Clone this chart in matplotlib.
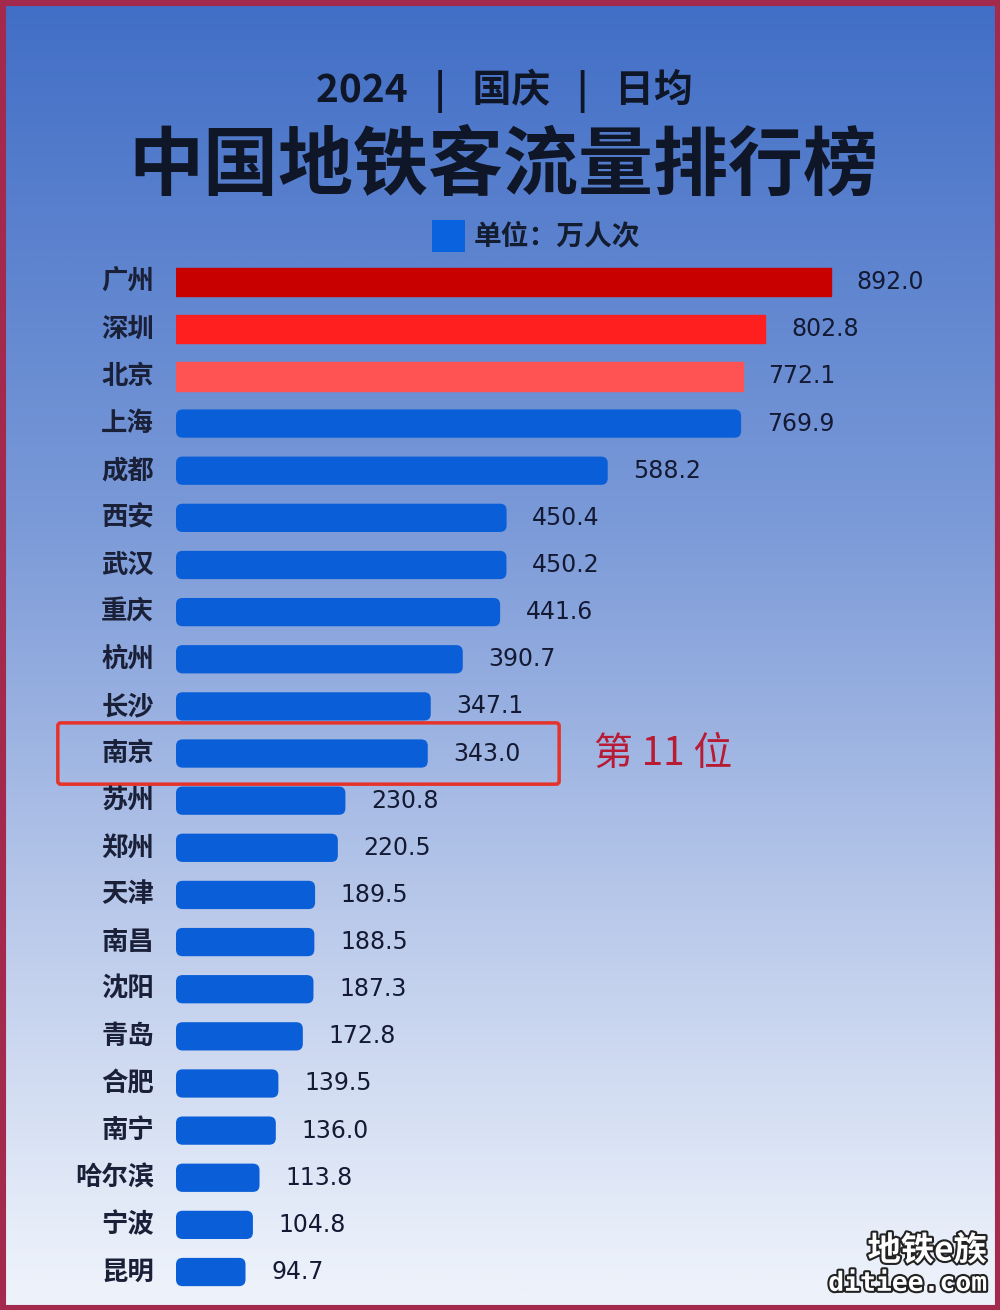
import numpy as np
import matplotlib
matplotlib.use('Agg')
import matplotlib.pyplot as plt
from matplotlib.colors import LinearSegmentedColormap
from matplotlib.patches import FancyBboxPatch, Rectangle
import matplotlib.patheffects as pe

plt.rcParams['font.family'] = ['Noto Sans CJK SC', 'DejaVu Sans']

#%% Данные
cities = ['广州', '深圳', '北京', '上海', '成都', '西安', '武汉', '重庆', '杭州', '长沙',
          '南京', '苏州', '郑州', '天津', '南昌', '沈阳', '青岛', '合肥', '南宁', '哈尔滨',
          '宁波', '昆明']
values = [892.0, 802.8, 772.1, 769.9, 588.2, 450.4, 450.2, 441.6, 390.7, 347.1,
          343.0, 230.8, 220.5, 189.5, 188.5, 187.3, 172.8, 139.5, 136.0, 113.8,
          104.8, 94.7]
top_colors = ['#c80000', '#ff1f1f', '#ff5252']
blue = '#0a5fd8'
highlight = '南京'

#%% Фон
fig = plt.figure(figsize=(10, 13.1), dpi=100)
bg = fig.add_axes([0, 0, 1, 1])
cmap = LinearSegmentedColormap.from_list(
    'bg', [(0, '#416ec6'), (0.4, '#7b9ad8'), (0.71, '#bccbeb'), (0.96, '#eaf0fa'), (1, '#eef2fa')])
bg.imshow(np.linspace(0, 1, 512).reshape(-1, 1), aspect='auto', cmap=cmap,
          extent=[0, 1, 0, 1], origin='upper')
bg.set_xlim(0, 1)
bg.set_ylim(0, 1)
bg.axis('off')
bg.add_patch(Rectangle((0, 0), 1, 1, transform=bg.transAxes, fill=False,
                       ec='#a32a4c', lw=8))

#%% Заголовки
dark = '#0f1628'
fig.text(0.504, 0.931, '2024   |   国庆   |   日均', ha='center', va='center',
         fontsize=28, fontweight='black', color=dark)
fig.text(0.503, 0.873, '中国地铁客流量排行榜', ha='center', va='center',
         fontsize=54, fontweight='black', color=dark)
fig.patches.append(Rectangle((0.432, 0.808), 0.033, 0.024, transform=fig.transFigure,
                             fc='#0a62de', ec='none'))
fig.text(0.474, 0.820, '单位：万人次', ha='left', va='center',
         fontsize=20, fontweight='bold', color='#141c30')

#%% Столбцы
ax = fig.add_axes([0.176, 0.011, 0.734, 0.7916])
ax.patch.set_alpha(0)
y = np.arange(len(cities))
bars = ax.barh(y, values, height=0.6, color=blue)
ax.set_xlim(0, 1000)
ax.set_ylim(len(cities) - 0.5, -0.5)
ax.axis('off')

ratio = (ax.get_position().width * 1000 / 1000) / (ax.get_position().height * 1310 / len(cities))
for i, b in enumerate(bars):
    if i < 3:
        b.set_color(top_colors[i])
    else:
        b.set_visible(False)
        ax.add_patch(FancyBboxPatch((b.get_x(), b.get_y()), b.get_width(), b.get_height(),
                                    boxstyle='round,pad=0,rounding_size=9',
                                    mutation_aspect=ratio, fc=blue, ec='none'))
    ax.text(-30, i, cities[i], ha='right', va='center', fontsize=19, fontweight='bold',
            color='#1a2038', clip_on=False)
    ax.text(values[i] + 35, i, f'{values[i]:.1f}', ha='left', va='center',
            fontsize=17, color='#141a33', family='DejaVu Sans')

k = cities.index(highlight)
ax.add_patch(FancyBboxPatch((-161, k - 0.65), 683, 1.3,
                            boxstyle='round,pad=0,rounding_size=4', mutation_aspect=ratio,
                            fill=False, ec='#e5322a', lw=2.5, clip_on=False))
ax.text(570, k, '第 11 位', ha='left', va='center', fontsize=28,
        color='#b81c34', clip_on=False)

#%% Водяной знак
stroke = [pe.withStroke(linewidth=3, foreground='#222222')]
fig.text(0.987, 0.045, '地铁e族', ha='right', va='center', fontsize=24,
         color='white', fontweight='bold', path_effects=stroke)
fig.text(0.987, 0.020, 'ditiee.com', ha='right', va='center', fontsize=19,
         color='white', family='DejaVu Sans Mono', fontweight='bold', path_effects=stroke)

fig.savefig('out.png', dpi=100)
